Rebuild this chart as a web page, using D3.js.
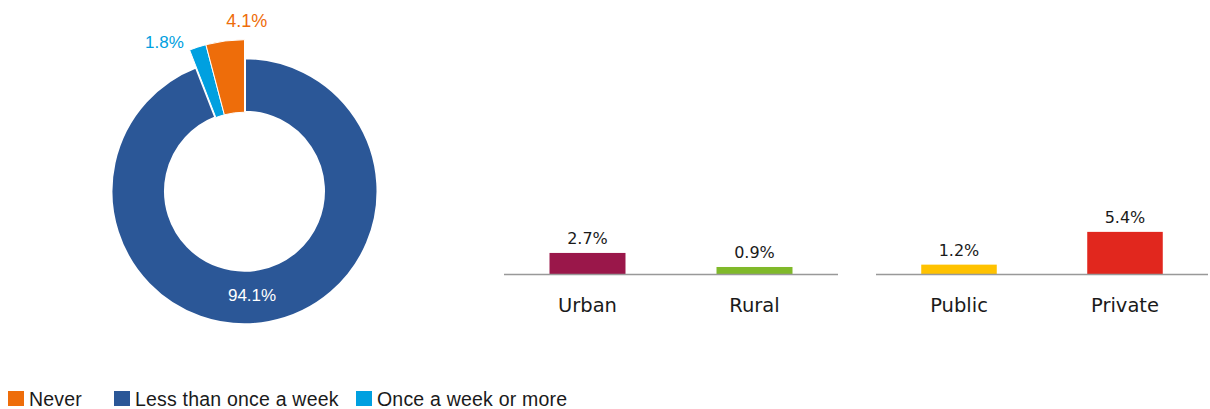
<!DOCTYPE html>
<html>
<head>
<meta charset="utf-8">
<script src="https://cdn.jsdelivr.net/npm/d3@7"></script>
<style>
  body { margin: 0; background: #fff; }
  svg { display: block; }
</style>
</head>
<body>
<svg width="1210" height="409"></svg>
<script>
// donut data (drawn clockwise from 12 o'clock)
var freqKeys = ["Less than once a week", "Once a week or more", "Never"];
var freqValues = [94.1, 1.8, 4.1];
var freqColors = ["#2b5797", "#00a0e0", "#ee6d0a"];
// legend order
var legendKeys = ["Never", "Less than once a week", "Once a week or more"];

// bar groups
var areaCats = ["Urban", "Rural"];
var areaValues = [2.7, 0.9];
var areaColors = ["#9a174a", "#80b92a"];
var schoolCats = ["Public", "Private"];
var schoolValues = [1.2, 5.4];
var schoolColors = ["#ffc200", "#e1271e"];

var svg = d3.select("svg");
var color = d3.scaleOrdinal().domain(freqKeys).range(freqColors);

// ---- donut ----
var cx = 244.5, cy = 191.2;
var g = svg.append("g").attr("transform", "translate(" + cx + "," + cy + ")");

var pie = d3.pie().sort(null).value(function(d) { return d.v; });
var arcs = pie(freqKeys.map(function(k, i) { return {k: k, v: freqValues[i]}; }));

var arcMain = d3.arc().innerRadius(79).outerRadius(133.5);
var arcOut = d3.arc().innerRadius(79).outerRadius(151.5);

g.selectAll("path")
  .data(arcs)
  .enter().append("path")
    .attr("d", function(d, i) { return i === 0 ? arcMain(d) : arcOut(d); })
    .attr("fill", function(d) { return color(d.data.k); })
    .attr("stroke", "#fff")
    .attr("stroke-width", function(d, i) { return i === 0 ? 3 : 1; })
    .attr("stroke-linejoin", "miter");

var fmt = function(v) { return v.toFixed(1) + "%"; };

// white label inside the big slice
var labIn = d3.arc().innerRadius(106).outerRadius(106);
g.append("text")
  .attr("x", labIn.centroid(arcs[0])[0] - 12)
  .attr("y", labIn.centroid(arcs[0])[1] + 6)
  .attr("text-anchor", "middle")
  .attr("font-family", "Liberation Sans, Arial, sans-serif")
  .attr("font-size", 17)
  .attr("fill", "#fff")
  .text(fmt(freqValues[0]));

// cyan label
var labC = d3.arc().innerRadius(151).outerRadius(151);
g.append("text")
  .attr("x", labC.centroid(arcs[1])[0] - 14)
  .attr("y", labC.centroid(arcs[1])[1])
  .attr("text-anchor", "end")
  .attr("font-family", "Liberation Sans, Arial, sans-serif")
  .attr("font-size", 17)
  .attr("fill", color(freqKeys[1]))
  .text(fmt(freqValues[1]));

// orange label
var labO = d3.arc().innerRadius(166).outerRadius(166);
g.append("text")
  .attr("x", labO.centroid(arcs[2])[0] + 3)
  .attr("y", labO.centroid(arcs[2])[1])
  .attr("text-anchor", "start")
  .attr("font-family", "Liberation Sans, Arial, sans-serif")
  .attr("font-size", 18)
  .attr("fill", color(freqKeys[2]))
  .text(fmt(freqValues[2]));

// ---- bars ----
var baseY = 274;
var y = d3.scaleLinear().domain([0, 10]).range([baseY, baseY - 78]);

function barGroup(cats, vals, cols, x0, x1) {
  var x = d3.scaleBand().domain(cats).range([x0, x1]).paddingInner(0.545).paddingOuter(0.2725);
  var bg = svg.append("g");

  bg.selectAll("rect")
    .data(cats)
    .enter().append("rect")
      .attr("x", function(d) { return x(d); })
      .attr("y", function(d, i) { return y(vals[i]); })
      .attr("width", x.bandwidth())
      .attr("height", function(d, i) { return baseY - y(vals[i]); })
      .attr("fill", function(d, i) { return cols[i]; });

  bg.append("line")
    .attr("x1", x0).attr("x2", x1)
    .attr("y1", baseY + 0.5).attr("y2", baseY + 0.5)
    .attr("stroke", "#999").attr("stroke-width", 1.5);

  bg.selectAll(".val")
    .data(cats)
    .enter().append("text")
      .attr("class", "val")
      .attr("x", function(d) { return x(d) + x.bandwidth() / 2; })
      .attr("y", function(d, i) { return y(vals[i]) - 9; })
      .attr("text-anchor", "middle")
      .attr("font-family", "DejaVu Sans, sans-serif")
      .attr("font-size", 16)
      .attr("fill", "#1a1a1a")
      .text(function(d, i) { return fmt(vals[i]); });

  bg.selectAll(".cat")
    .data(cats)
    .enter().append("text")
      .attr("class", "cat")
      .attr("x", function(d) { return x(d) + x.bandwidth() / 2; })
      .attr("y", baseY + 38)
      .attr("text-anchor", "middle")
      .attr("font-family", "DejaVu Sans, sans-serif")
      .attr("font-size", 19.5)
      .attr("fill", "#1a1a1a")
      .text(function(d) { return d; });
}

barGroup(areaCats, areaValues, areaColors, 504, 838);
barGroup(schoolCats, schoolValues, schoolColors, 876, 1208);

// ---- legend ----
var legX = [8, 114, 356];
var leg = svg.append("g").selectAll("g")
  .data(legendKeys)
  .enter().append("g")
    .attr("transform", function(d, i) { return "translate(" + legX[i] + ",391)"; });

leg.append("rect")
  .attr("width", 16).attr("height", 15)
  .attr("fill", function(d) { return color(d); });

leg.append("text")
  .attr("x", 21)
  .attr("y", 14.7)
  .attr("font-family", "Liberation Sans, Arial, sans-serif")
  .attr("font-size", 19.5)
  .attr("letter-spacing", 0.2)
  .attr("fill", "#1a1a1a")
  .text(function(d) { return d; });
</script>
</body>
</html>
